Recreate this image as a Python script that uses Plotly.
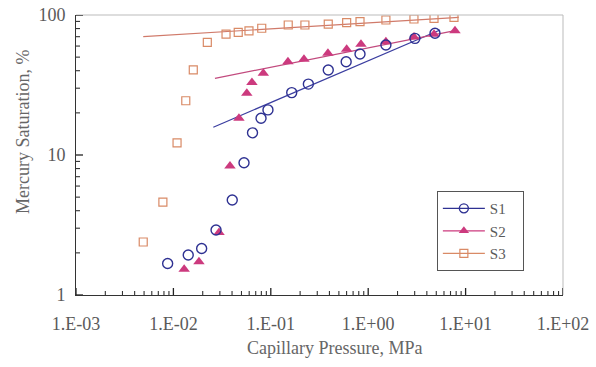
import plotly.graph_objects as go

# ---- data ----
s1_p = [0.00873, 0.0142, 0.0195, 0.0274, 0.0402, 0.0531, 0.0649, 0.0794, 0.0935,
        0.164, 0.243, 0.389, 0.594, 0.824, 1.52, 3.02, 4.85]
s1_s = [1.68, 1.93, 2.15, 2.91, 4.77, 8.81, 14.4, 18.3, 21.0,
        27.9, 32.1, 40.5, 46.4, 52.7, 61.1, 68.1, 74.0]

s2_p = [0.0129, 0.0183, 0.0294, 0.0381, 0.0471, 0.0567, 0.0640, 0.0838,
        0.150, 0.219, 0.386, 0.601, 0.843, 1.52, 2.95, 4.74, 7.78]
s2_s = [1.53, 1.73, 2.80, 8.35, 18.3, 27.6, 33.0, 38.3,
        46.4, 48.3, 53.3, 56.9, 61.8, 64.5, 69.5, 73.0, 77.3]

s3_p = [0.0049, 0.0078, 0.0109, 0.0134, 0.0160, 0.0223, 0.0347, 0.0463, 0.0597, 0.0807,
        0.151, 0.224, 0.389, 0.601, 0.824, 1.52, 2.95, 4.74, 7.60]
s3_s = [2.39, 4.6, 12.2, 24.4, 40.5, 63.8, 73.1, 75.2, 76.9, 80.4,
        84.8, 84.8, 86.2, 88.1, 89.6, 92.1, 93.6, 94.7, 96.3]

# power-law trend lines (end points)
fit1_p = [0.0257, 5.46]
fit1_s = [15.8, 78.2]
fit2_p = [0.0267, 7.78]
fit2_s = [35.3, 77.3]
fit3_p = [0.0049, 8.5]
fit3_s = [70.0, 96.3]

x_tickvals = [1e-3, 1e-2, 1e-1, 1e0, 1e1, 1e2]
x_ticktext = ["1.E-03", "1.E-02", "1.E-01", "1.E+00", "1.E+01", "1.E+02"]
y_tickvals = [1, 10, 100]
y_ticktext = ["1", "10", "100"]

x_title = "Capillary Pressure, MPa"
y_title = "Mercury Saturation, %"

# minor tick positions (2..9 within each decade)
mult = [2, 3, 4, 5, 6, 7, 8, 9]
x_minor = [m * d for d in x_tickvals[:-1] for m in mult]
y_minor = [m * d for d in y_tickvals[:-1] for m in mult]

c1 = "#2e3192"
c2 = "#cc3a7e"
c3 = "#d98a66"
serif = "Liberation Serif"
txt = "#5a5a5a"
nb = "\u00a0"

fig = go.Figure()

# trend lines
fig.add_trace(go.Scatter(x=fit1_p, y=fit1_s, mode="lines", line=dict(color="#3b3ea0", width=1.2),
                         showlegend=False, hoverinfo="skip"))
fig.add_trace(go.Scatter(x=fit2_p, y=fit2_s, mode="lines", line=dict(color="#c24a7e", width=1.2),
                         showlegend=False, hoverinfo="skip"))
fig.add_trace(go.Scatter(x=fit3_p, y=fit3_s, mode="lines", line=dict(color="#d07a6a", width=1.2),
                         showlegend=False, hoverinfo="skip"))

# markers
fig.add_trace(go.Scatter(x=s3_p, y=s3_s, mode="markers", name="S3",
                         marker=dict(symbol="square-open", size=8, color=c3, line=dict(width=1.2)),
                         showlegend=False))
fig.add_trace(go.Scatter(x=s2_p, y=s2_s, mode="markers", name="S2",
                         marker=dict(symbol="triangle-up", size=10, color=c2),
                         showlegend=False))
fig.add_trace(go.Scatter(x=s1_p, y=s1_s, mode="markers", name="S1",
                         marker=dict(symbol="circle-open", size=10, color=c1, line=dict(width=1.4)),
                         showlegend=False))

# legend entries
fig.add_trace(go.Scatter(x=[None], y=[None], mode="lines+markers", name="S1" + nb * 3,
                         line=dict(color=c1, width=1.2),
                         marker=dict(symbol="circle-open", size=9, color=c1, line=dict(width=1.4))))
fig.add_trace(go.Scatter(x=[None], y=[None], mode="lines+markers", name="S2" + nb * 3,
                         line=dict(color=c2, width=1.2),
                         marker=dict(symbol="triangle-up", size=9, color=c2)))
fig.add_trace(go.Scatter(x=[None], y=[None], mode="lines+markers", name="S3" + nb * 3,
                         line=dict(color=c3, width=1.2),
                         marker=dict(symbol="square-open", size=8, color=c3, line=dict(width=1.2))))

fig.update_layout(
    width=596, height=367,
    margin=dict(l=76, r=33, t=15, b=72),
    paper_bgcolor="white", plot_bgcolor="white",
    font=dict(family=serif, size=18, color=txt),
    showlegend=True,
    legend=dict(x=0.741, y=0.371, xanchor="left", yanchor="top",
                bgcolor="white", bordercolor="#555555", borderwidth=1,
                font=dict(family=serif, size=15, color=txt),
                itemwidth=42, tracegroupgap=0),
    xaxis=dict(type="log", range=[-3, 2], tickvals=x_tickvals, ticktext=x_ticktext,
               showgrid=False, zeroline=False, showline=True, linecolor="#333333", linewidth=1,
               ticks="", automargin=False, ticklabelstandoff=12,
               tickfont=dict(family=serif, size=18, color=txt)),
    yaxis=dict(type="log", range=[0, 2], tickvals=y_tickvals, ticktext=y_ticktext,
               showgrid=False, zeroline=False, showline=True, linecolor="#333333", linewidth=1,
               ticks="", automargin=False, ticklabelstandoff=6,
               tickfont=dict(family=serif, size=18, color=txt)),
    annotations=[
        dict(text=x_title, xref="paper", yref="paper", x=0.530, y=-0.19,
             xanchor="center", yanchor="middle", showarrow=False,
             font=dict(family=serif, size=18, color="#666666")),
        dict(text=y_title, xref="paper", yref="paper", x=-0.109, y=0.582,
             xanchor="center", yanchor="middle", showarrow=False, textangle=-90,
             font=dict(family=serif, size=18, color="#666666")),
    ],
)

# light frame on top/right
fig.add_shape(type="line", xref="paper", yref="paper", x0=0, x1=1, y0=1, y1=1,
              line=dict(color="#bbbbbb", width=1))
fig.add_shape(type="line", xref="paper", yref="paper", x0=1, x1=1, y0=0, y1=1,
              line=dict(color="#bbbbbb", width=1))

# axis tick marks (major cross the axis, minor inside)
plot_w, plot_h = 487.0, 280.0
for v in x_tickvals:
    fig.add_shape(type="line", xref="x", yref="paper", x0=v, x1=v,
                  y0=0, y1=7 / plot_h, line=dict(color="#222222", width=1.3))
for v in x_minor:
    fig.add_shape(type="line", xref="x", yref="paper", x0=v, x1=v,
                  y0=0, y1=4 / plot_h, line=dict(color="#333333", width=1.1))
for v in y_tickvals:
    fig.add_shape(type="line", xref="paper", yref="y", x0=0, x1=7 / plot_w,
                  y0=v, y1=v, line=dict(color="#222222", width=1.3))
for v in y_minor:
    fig.add_shape(type="line", xref="paper", yref="y", x0=0, x1=4 / plot_w,
                  y0=v, y1=v, line=dict(color="#333333", width=1.1))

fig.write_html("out.html")
